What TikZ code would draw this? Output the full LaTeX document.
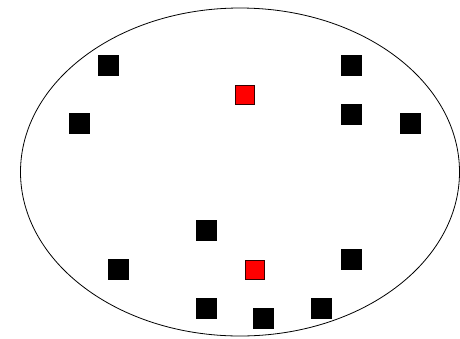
\documentclass[tikz,border=0pt]{standalone}
\begin{document}
\begin{tikzpicture}[
        x=1pt, y=-1pt,
        dot/.style={rectangle, fill=black, minimum size=21pt, inner sep=0pt},
        hub/.style={rectangle, draw=black!80!red, fill=red, line width=0.8pt, minimum size=19pt, inner sep=0pt}
    ]
        \useasboundingbox (0,0) rectangle (460,338);
        \draw[line width=0.8pt] (240,172) ellipse [x radius=219.5, y radius=164];
        \foreach \name/\px/\py in {a/108.5/65, b/79/123, c/351.5/65, d/351.5/114, e/410/123,
                                   f/206/230, g/118/269.5, h/351.5/259, i/206/308, j/263.5/318, k/321.5/308} {
            \node[dot] (\name) at (\px,\py) {};
        }
        \node[hub] (top) at (244.5,94.5) {};
        \node[hub] (bottom) at (254.5,270) {};
    \end{tikzpicture}
\end{document}
